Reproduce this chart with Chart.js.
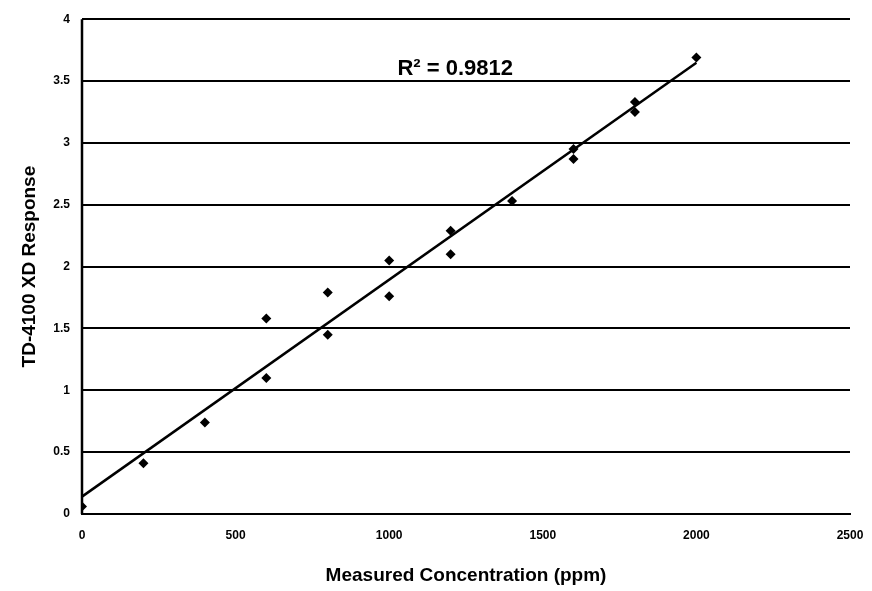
<!DOCTYPE html>
<html>
<head>
<meta charset="utf-8">
<script src="https://cdn.jsdelivr.net/npm/chart.js@4/dist/chart.umd.min.js"></script>
<style>
  html, body { margin: 0; padding: 0; background: #fff; }
  #wrap { width: 872px; height: 591px; }
</style>
</head>
<body>
<div id="wrap"><canvas id="c" width="872" height="591"></canvas></div>
<script>
const concentration = [0, 200, 400, 600, 600, 800, 800, 1000, 1000, 1200, 1200, 1400, 1600, 1600, 1800, 1800, 2000];
const response = [0.06, 0.41, 0.74, 1.58, 1.10, 1.45, 1.79, 2.05, 1.76, 2.29, 2.10, 2.53, 2.95, 2.87, 3.33, 3.25, 3.69];
const xTicks = [0, 500, 1000, 1500, 2000, 2500];
const yTicks = [0, 0.5, 1, 1.5, 2, 2.5, 3, 3.5, 4];
const r2Label = 'R\u00b2 = 0.9812';

// least squares fit for the trendline
const n = concentration.length;
const mx = concentration.reduce((a, b) => a + b, 0) / n;
const my = response.reduce((a, b) => a + b, 0) / n;
let sxy = 0, sxx = 0;
concentration.forEach((x, i) => { sxy += (x - mx) * (response[i] - my); sxx += (x - mx) ** 2; });
const slope = sxy / sxx;
const intercept = my - slope * mx;
const fitX = [0, 2000];

const points = concentration.map((x, i) => ({ x, y: response[i] }));
const fitLine = fitX.map(x => ({ x, y: intercept + slope * x }));

const font = 'Liberation Sans, Arial, sans-serif';

const r2Plugin = {
  id: 'r2',
  afterDatasetsDraw(chart) {
    const { ctx, scales: { x, y } } = chart;
    ctx.save();
    ctx.font = 'bold 22px ' + font;
    ctx.fillStyle = '#000';
    ctx.textAlign = 'center';
    ctx.textBaseline = 'middle';
    ctx.fillText(r2Label, x.getPixelForValue(1215), y.getPixelForValue(3.6));
    ctx.restore();
  }
};

const borderPlugin = {
  id: 'frame',
  afterDraw(chart) {
    const { ctx, chartArea: a } = chart;
    ctx.save();
    ctx.strokeStyle = '#000';
    ctx.lineWidth = 2.5;
    ctx.beginPath();
    ctx.moveTo(a.left, a.bottom);
    ctx.lineTo(a.left, a.top);
    ctx.stroke();
    ctx.restore();
  }
};

new Chart(document.getElementById('c'), {
  type: 'scatter',
  data: {
    datasets: [
      {
        label: 'Response',
        data: points,
        pointStyle: 'rectRot',
        pointRadius: 5,
        backgroundColor: '#000',
        borderColor: '#000',
        borderWidth: 0
      },
      {
        label: 'Linear fit',
        type: 'line',
        data: fitLine,
        borderColor: '#000',
        borderWidth: 2.5,
        pointRadius: 0,
        fill: false
      }
    ]
  },
  options: {
    responsive: false,
    animation: false,
    layout: { padding: { top: 13, right: 2, left: 0, bottom: 0 } },
    plugins: { legend: { display: false }, tooltip: { enabled: false } },
    scales: {
      x: {
        type: 'linear',
        min: 0, max: 2500,
        afterBuildTicks: s => { s.ticks = xTicks.map(v => ({ value: v })); },
        afterFit: s => { s.height = 77; s.paddingRight = 22; },
        grid: { display: false, drawTicks: false },
        border: { display: true, color: '#000', width: 2 },
        ticks: { color: '#000', padding: 14, maxRotation: 0, callback: v => String(v), font: { family: font, size: 12, weight: 'bold' } },
        title: { display: true, text: 'Measured Concentration (ppm)', color: '#000', padding: { top: 12 }, font: { family: font, size: 19, weight: 'bold' } }
      },
      y: {
        min: 0, max: 4,
        afterBuildTicks: s => { s.ticks = yTicks.map(v => ({ value: v })); },
        afterFit: s => { s.width = 82; },
        grid: { color: '#000', lineWidth: 2, drawTicks: false },
        border: { display: false },
        ticks: { color: '#000', padding: 12, callback: v => String(v), font: { family: font, size: 12, weight: 'bold' } },
        title: { display: true, text: 'TD-4100 XD Response', color: '#000', padding: { top: 18, bottom: 0 }, font: { family: font, size: 19, weight: 'bold' } }
      }
    }
  },
  plugins: [r2Plugin, borderPlugin]
});
</script>
</body>
</html>
